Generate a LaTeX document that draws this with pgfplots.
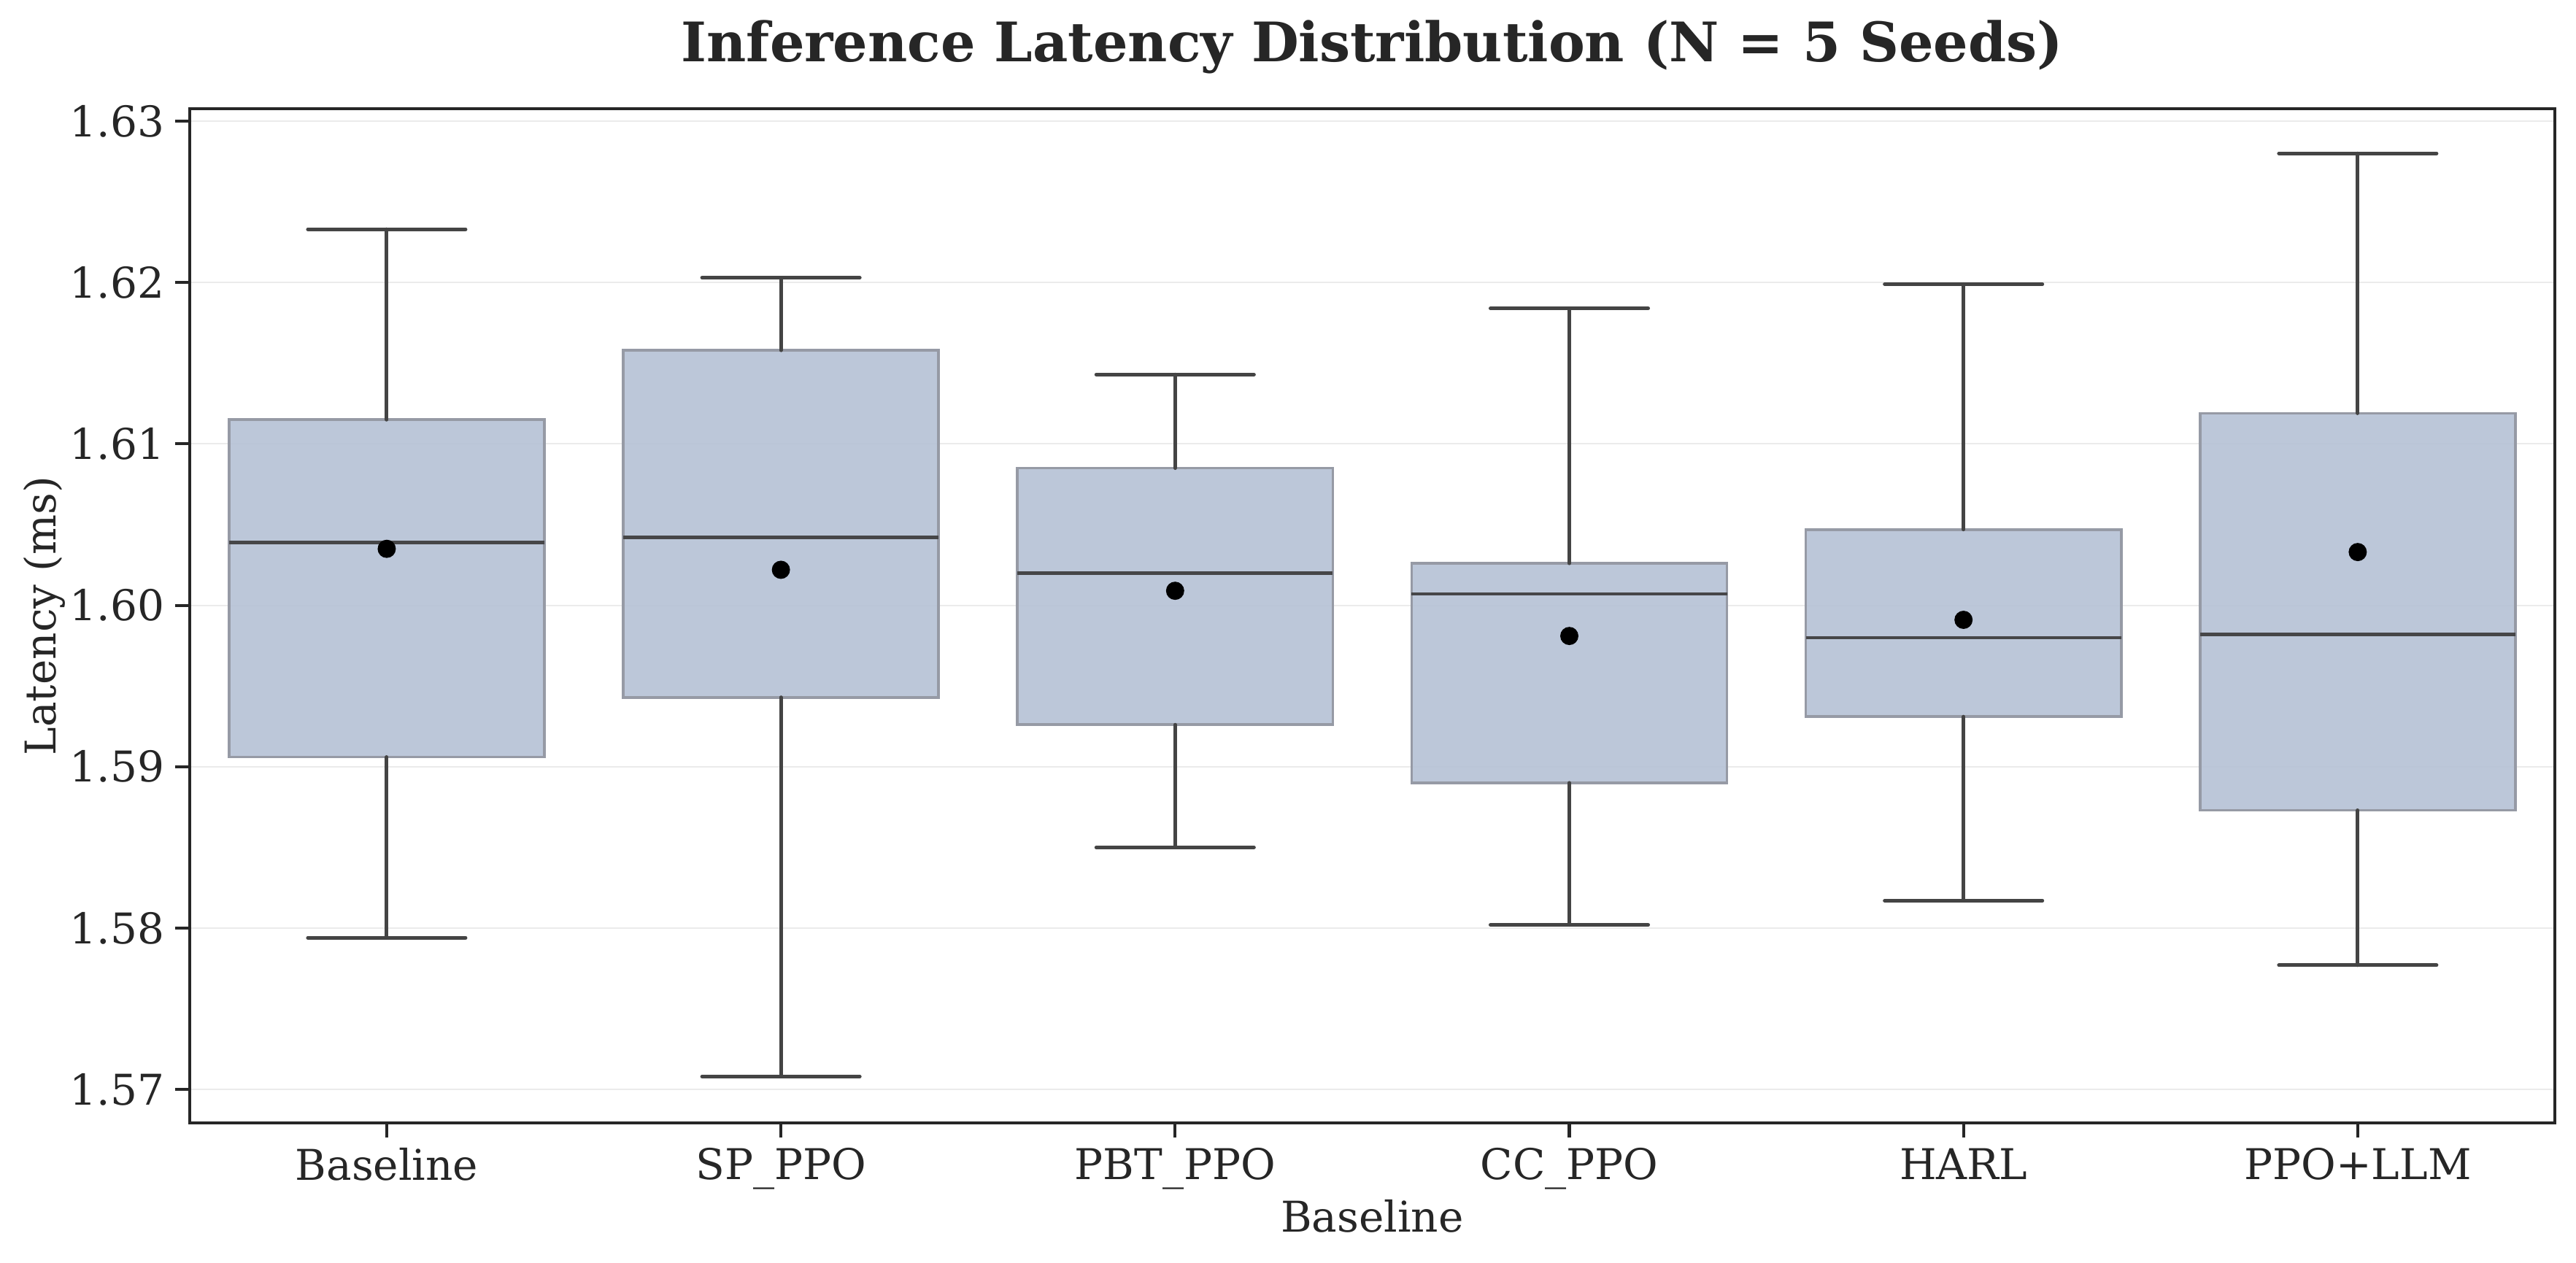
\documentclass[border=0pt]{standalone}
\usepackage{fontspec}
\setmainfont{DejaVu Serif}
\usepackage{pgfplots}
\pgfplotsset{compat=1.18}
\definecolor{boxfill}{RGB}{181,193,213}
\definecolor{boxedge}{RGB}{150,154,165}
\definecolor{medcol}{RGB}{70,70,72}
\definecolor{whiskcol}{RGB}{68,68,68}
\definecolor{spine}{RGB}{38,38,38}
\definecolor{gridcol}{RGB}{235,235,235}
\begin{document}
\begin{tikzpicture}
\begin{axis}[name=ax, scale only axis, width=780.8pt, height=334.9pt,
  xmin=-0.5, xmax=5.5, ymin=1.56792, ymax=1.63077,
  unbounded coords=jump,
  xtick={0,1,2,3,4,5},
  xticklabels={Baseline,SP\_PPO,PBT\_PPO,CC\_PPO,HARL,PPO+LLM},
  ytick={1.57,1.58,1.59,1.60,1.61,1.62,1.63},
  /pgf/number format/assume math mode=true,
  yticklabel style={/pgf/number format/.cd, fixed, fixed zerofill, precision=2},
  ticklabel style={font=\fontsize{14}{17}\selectfont, text=spine},
  tick align=outside, major tick length=4.8pt,
  xtick pos=bottom, ytick pos=left,
  tick style={draw=spine, line width=1pt},
  axis line style={draw=spine, line width=1pt},
  ymajorgrids, grid style={draw=gridcol, line width=0.5pt},
  title={Inference Latency Distribution (N = 5 Seeds)},
  title style={font=\fontsize{18}{22}\selectfont\bfseries, text=spine,
    at={(axis description cs:0.5,1)}, anchor=base, yshift=9.6pt},
  xlabel={Baseline},
  xlabel style={font=\fontsize{14}{17}\selectfont, text=spine,
    at={(axis description cs:0.5,0)}, anchor=base, yshift=-35.9pt},
  ylabel={Latency (ms)},
  ylabel style={font=\fontsize{14}{17}\selectfont, text=spine,
    at={([xshift=-44.2pt]axis description cs:0,0.5)}, anchor=base},
]
% boxes: Q1 .. Q3
\addplot[fill=boxfill, fill opacity=0.9, draw=boxedge, line width=0.9pt] coordinates {(-0.4,1.5906) (0.4,1.5906) (0.4,1.6115) (-0.4,1.6115)} --cycle;
\addplot[fill=boxfill, fill opacity=0.9, draw=boxedge, line width=0.9pt] coordinates {(0.6,1.5943) (1.4,1.5943) (1.4,1.6158) (0.6,1.6158)} --cycle;
\addplot[fill=boxfill, fill opacity=0.9, draw=boxedge, line width=0.9pt] coordinates {(1.6,1.5926) (2.4,1.5926) (2.4,1.6085) (1.6,1.6085)} --cycle;
\addplot[fill=boxfill, fill opacity=0.9, draw=boxedge, line width=0.9pt] coordinates {(2.6,1.5890) (3.4,1.5890) (3.4,1.6026) (2.6,1.6026)} --cycle;
\addplot[fill=boxfill, fill opacity=0.9, draw=boxedge, line width=0.9pt] coordinates {(3.6,1.5931) (4.4,1.5931) (4.4,1.6047) (3.6,1.6047)} --cycle;
\addplot[fill=boxfill, fill opacity=0.9, draw=boxedge, line width=0.9pt] coordinates {(4.6,1.5873) (5.4,1.5873) (5.4,1.6119) (4.6,1.6119)} --cycle;
% whiskers and caps
\addplot[draw=whiskcol, line width=1.2pt, line cap=round] coordinates {
  (0,1.5906) (0,1.5794) (nan,nan) (-0.2,1.5794) (0.2,1.5794) (nan,nan)
  (0,1.6115) (0,1.6233) (nan,nan) (-0.2,1.6233) (0.2,1.6233) (nan,nan)
  (1,1.5943) (1,1.5708) (nan,nan) (0.8,1.5708) (1.2,1.5708) (nan,nan)
  (1,1.6158) (1,1.6203) (nan,nan) (0.8,1.6203) (1.2,1.6203) (nan,nan)
  (2,1.5926) (2,1.5850) (nan,nan) (1.8,1.5850) (2.2,1.5850) (nan,nan)
  (2,1.6085) (2,1.6143) (nan,nan) (1.8,1.6143) (2.2,1.6143) (nan,nan)
  (3,1.5890) (3,1.5802) (nan,nan) (2.8,1.5802) (3.2,1.5802) (nan,nan)
  (3,1.6026) (3,1.6184) (nan,nan) (2.8,1.6184) (3.2,1.6184) (nan,nan)
  (4,1.5931) (4,1.5817) (nan,nan) (3.8,1.5817) (4.2,1.5817) (nan,nan)
  (4,1.6047) (4,1.6199) (nan,nan) (3.8,1.6199) (4.2,1.6199) (nan,nan)
  (5,1.5873) (5,1.5777) (nan,nan) (4.8,1.5777) (5.2,1.5777) (nan,nan)
  (5,1.6119) (5,1.6280) (nan,nan) (4.8,1.6280) (5.2,1.6280)};
% medians
\addplot[draw=medcol, line width=1.1pt] coordinates {
  (-0.4,1.6039) (0.4,1.6039) (nan,nan)
  (0.6,1.6042) (1.4,1.6042) (nan,nan)
  (1.6,1.6020) (2.4,1.6020) (nan,nan)
  (2.6,1.6007) (3.4,1.6007) (nan,nan)
  (3.6,1.5980) (4.4,1.5980) (nan,nan)
  (4.6,1.5982) (5.4,1.5982)};
% means
\addplot[only marks, mark=*, mark size=2.8pt, draw=black, fill=black] coordinates {
  (0,1.6035) (1,1.6022) (2,1.6009) (3,1.5981) (4,1.5991) (5,1.6033)};
\end{axis}
\pgfresetboundingbox
\useasboundingbox ([xshift=-62.6pt,yshift=-46pt]ax.south west) rectangle ([xshift=7pt,yshift=35.9pt]ax.north east);
\end{tikzpicture}
\end{document}
